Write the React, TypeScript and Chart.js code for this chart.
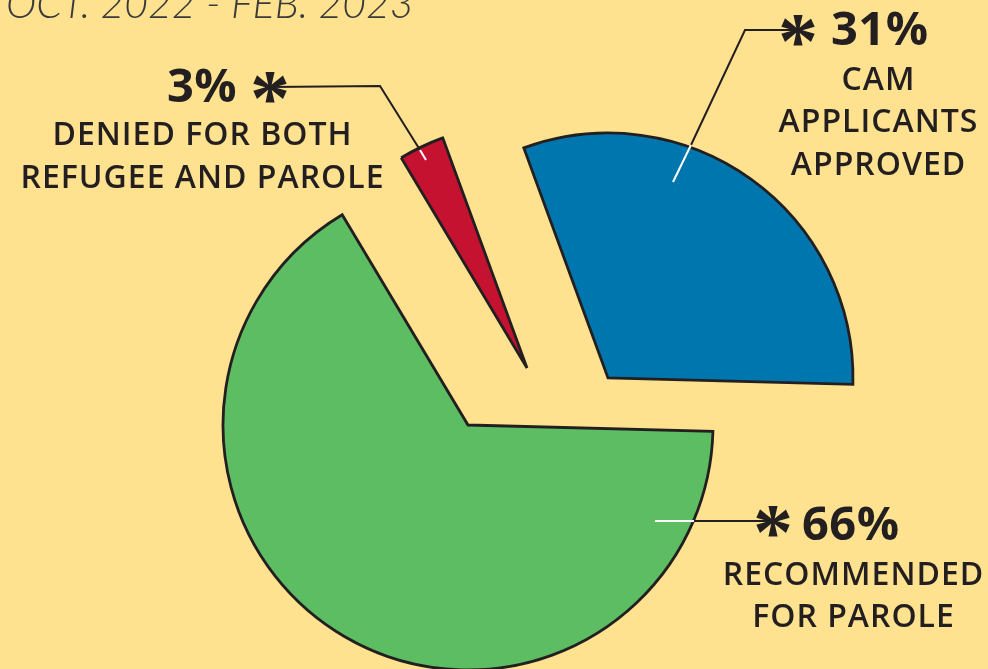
import React, { useEffect, useRef } from "react";
import { Chart, registerables } from "chart.js";

Chart.register(...registerables);

// ---- data ----
const categories = [
  "Recommended for parole",
  "Denied for both refugee and parole",
  "CAM applicants approved",
];
const shares = [66, 3, 31];
const percentLabels = ["66%", "3%", "31%"];
const descriptionLines = [
  ["RECOMMENDED", "FOR PAROLE"],
  ["DENIED FOR BOTH", "REFUGEE AND PAROLE"],
  ["CAM", "APPLICANTS", "APPROVED"],
];
const titleText = "OCT. 2022 - FEB. 2023";

// ---- style ----
const W = 988;
const H = 669;
const BG = "#FEE290";
const COLORS = ["#5DBD63", "#C41230", "#0076AF"];
const INK = "#231F20";
const SLICE_SHIFT = [
  { x: 0, y: 0 },
  { x: 59, y: -57 },
  { x: 140, y: -47 },
];
const ANNOT = [
  {
    inner: [655, 521], edge: [694, 521], elbow: null as null | number[], star: [773, 521],
    pct: { x: 802, y: 540, align: "left" as CanvasTextAlign },
    desc: { x: 853, ys: [585, 627] },
  },
  {
    inner: [426, 160], edge: [420, 150], elbow: [380, 86], star: [270, 87],
    pct: { x: 202, y: 102, align: "center" as CanvasTextAlign },
    desc: { x: 202, ys: [145, 188] },
  },
  {
    inner: [673, 182], edge: [691, 145], elbow: [745, 30], star: [798, 30],
    pct: { x: 831, y: 45, align: "left" as CanvasTextAlign },
    desc: { x: 878, ys: [90, 132, 175] },
  },
];

const bgPlugin = {
  id: "bg",
  beforeDraw(chart: any) {
    const ctx = chart.ctx;
    ctx.save();
    ctx.fillStyle = BG;
    ctx.fillRect(0, 0, chart.width, chart.height);
    ctx.restore();
  },
};

const shiftPlugin = {
  id: "sliceShift",
  afterDatasetsUpdate(chart: any) {
    const meta = chart.getDatasetMeta(0);
    meta.data.forEach((arc: any, i: number) => {
      arc.x += SLICE_SHIFT[i].x;
      arc.y += SLICE_SHIFT[i].y;
    });
  },
};

function drawStar(ctx: CanvasRenderingContext2D, cx: number, cy: number) {
  ctx.save();
  ctx.font = "bold 80px 'Liberation Serif'";
  ctx.textAlign = "center";
  ctx.textBaseline = "alphabetic";
  (ctx as any).letterSpacing = "0px";
  const m = ctx.measureText("*");
  const top = m.actualBoundingBoxAscent;
  const bot = m.actualBoundingBoxDescent;
  const y = cy + (top - bot) / 2;
  ctx.fillStyle = INK;
  ctx.fillText("*", cx, y);
  ctx.restore();
}

const labelPlugin = {
  id: "labels",
  afterDraw(chart: any) {
    const ctx: CanvasRenderingContext2D = chart.ctx;
    ctx.save();
    // title (cut off at top like the original)
    ctx.font = "italic 300 41px Lato";
    ctx.fillStyle = "#3A3A3A";
    ctx.textAlign = "left";
    ctx.textBaseline = "alphabetic";
    (ctx as any).letterSpacing = "0px";
    ctx.fillText(titleText, 6, 18);

    ANNOT.forEach((a, i) => {
      // leader line
      ctx.lineCap = "butt";
      ctx.lineJoin = "miter";
      ctx.strokeStyle = INK;
      ctx.lineWidth = 2;
      ctx.beginPath();
      ctx.moveTo(a.edge[0], a.edge[1]);
      if (a.elbow) ctx.lineTo(a.elbow[0], a.elbow[1]);
      ctx.lineTo(a.star[0], a.star[1]);
      ctx.stroke();
      ctx.strokeStyle = "#FFFFFF";
      ctx.beginPath();
      ctx.moveTo(a.inner[0], a.inner[1]);
      ctx.lineTo(a.edge[0], a.edge[1]);
      ctx.stroke();
      drawStar(ctx, a.star[0], a.star[1]);

      ctx.fillStyle = INK;
      (ctx as any).letterSpacing = "0.5px";
      ctx.font = "bold 47px 'Open Sans'";
      ctx.textAlign = a.pct.align;
      ctx.fillText(percentLabels[i], a.pct.x, a.pct.y);

      ctx.font = "600 32px 'Open Sans'";
      (ctx as any).letterSpacing = "1px";
      ctx.textAlign = "center";
      descriptionLines[i].forEach((line, j) => {
        ctx.fillText(line, a.desc.x + 0.5, a.desc.ys[j]);
      });
    });
    ctx.restore();
  },
};

export default function App() {
  const ref = useRef<HTMLCanvasElement | null>(null);
  useEffect(() => {
    if (!ref.current) return;
    const chart = new Chart(ref.current, {
      type: "pie",
      data: {
        labels: categories,
        datasets: [
          {
            data: shares,
            backgroundColor: COLORS,
            borderColor: INK,
            borderWidth: 2.8,
            borderJoinStyle: "miter",
            radius: 245,
            clip: false,
          } as any,
        ],
      },
      options: {
        animation: false,
        responsive: false,
        events: [],
        rotation: 91.5,
        radius: 245,
        layout: { padding: { left: 0, right: 52, top: 181, bottom: 0 } },
        plugins: {
          legend: { display: false },
          tooltip: { enabled: false },
          title: { display: false },
        },
      } as any,
      plugins: [bgPlugin, shiftPlugin, labelPlugin],
    });
    return () => chart.destroy();
  }, []);
  return (
    <div style={{ position: "absolute", left: 0, top: 0, width: W, height: H, overflow: "hidden" }}>
      <canvas ref={ref} width={W} height={H} style={{ display: "block", width: W, height: H }} />
    </div>
  );
}
